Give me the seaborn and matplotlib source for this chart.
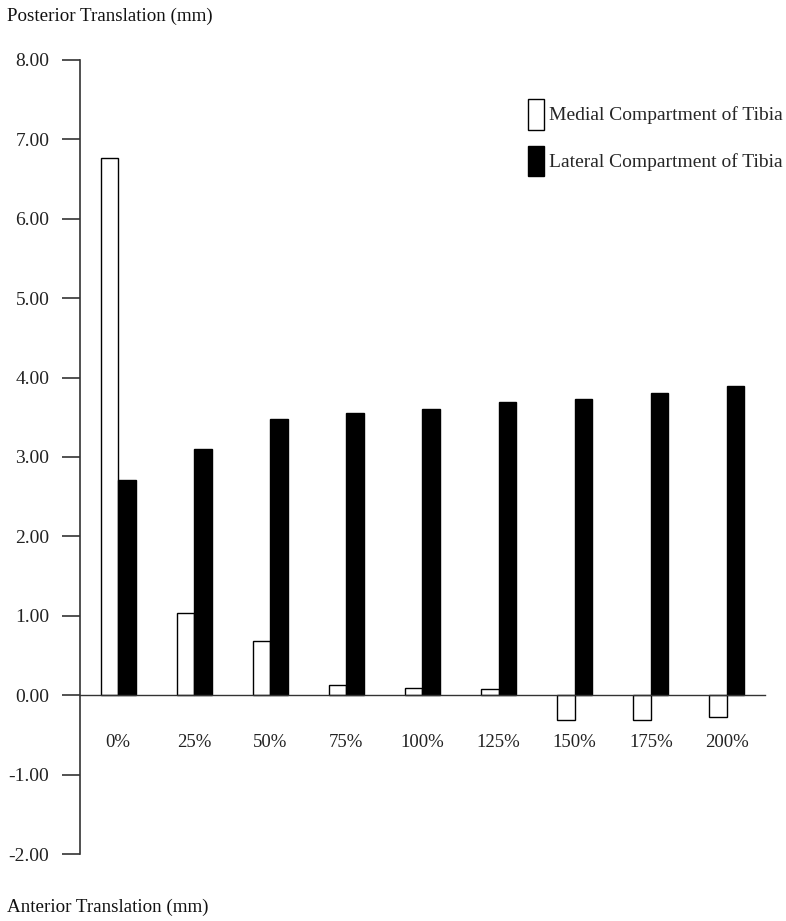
import pandas as pd
import matplotlib
matplotlib.use("Agg")
import matplotlib.pyplot as plt
import seaborn as sns

# loads (% body weight) and tibial translation per compartment (mm)
loads = ["0%", "25%", "50%", "75%", "100%", "125%", "150%", "175%", "200%"]
medial = [6.76, 1.03, 0.68, 0.13, 0.09, 0.08, -0.31, -0.31, -0.27]
lateral = [2.71, 3.10, 3.48, 3.55, 3.60, 3.69, 3.73, 3.80, 3.90]
series_names = ["Medial Compartment of Tibia", "Lateral Compartment of Tibia"]
y_ticks = [-2, -1, 0, 1, 2, 3, 4, 5, 6, 7, 8]

df = pd.DataFrame({
    "load": loads * 2,
    "value": medial + lateral,
    "series": [series_names[0]] * len(loads) + [series_names[1]] * len(loads),
})

sns.set_style("white")
plt.rcParams["font.family"] = ["Liberation Serif", "DejaVu Serif"]

fig = plt.figure(figsize=(7.86, 9.21), dpi=100)
W, H = 786, 921
ax = fig.add_axes([80 / W, (H - 854) / H, (765 - 80) / W, (854 - 60) / H])

sns.barplot(data=df, x="load", y="value", hue="series", order=loads,
            hue_order=series_names, palette=["white", "black"],
            width=0.46, edgecolor="black", linewidth=1.0, ax=ax)

ax.set_xlim(-0.5, 8.5)
ax.set_ylim(-2, 8)
ax.set_yticks(y_ticks)
ax.set_yticklabels([f"{t:.2f}" for t in y_ticks], fontsize=14, color="#222222")
ax.set_xlabel("")
ax.set_ylabel("")

for side in ["top", "right"]:
    ax.spines[side].set_visible(False)
ax.spines["left"].set_color("#333333")
ax.spines["left"].set_linewidth(1.2)
ax.spines["bottom"].set_position(("data", 0))
ax.spines["bottom"].set_color("#333333")
ax.spines["bottom"].set_linewidth(1.0)

ax.tick_params(axis="y", left=True, length=13, width=1.2, color="#333333", pad=9)
ax.tick_params(axis="x", bottom=False, length=0, pad=28, labelsize=13.5,
               labelcolor="#222222")

handles, labels = ax.get_legend_handles_labels()
ax.legend(handles, labels, loc="upper left", bbox_to_anchor=(528 / W, 1 - 99 / H),
          bbox_transform=fig.transFigure, frameon=False, fontsize=14,
          handlelength=0.82, handleheight=2.05, labelspacing=0.82,
          handletextpad=0.26, borderpad=0, borderaxespad=0)

fig.text(7 / W, 1 - 16 / H, "Posterior Translation (mm)", fontsize=13.7,
         va="center", ha="left", color="#111111")
fig.text(7 / W, 1 - 907 / H, "Anterior Translation (mm)", fontsize=13.7,
         va="center", ha="left", color="#111111")

fig.savefig("out.png", dpi=100, facecolor="white")
